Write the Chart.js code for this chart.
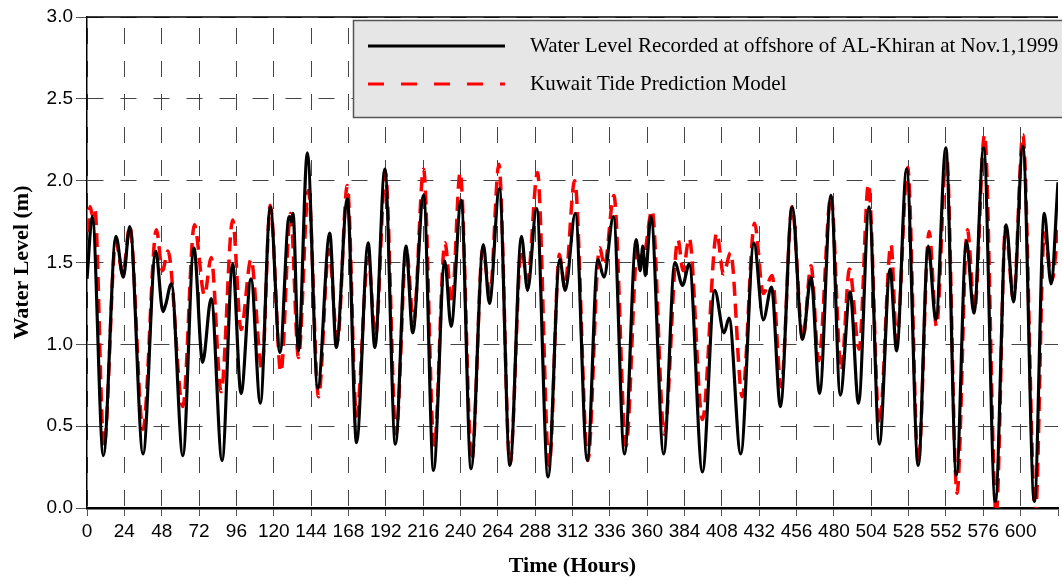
<!DOCTYPE html>
<html>
<head>
<meta charset="utf-8">
<title>AL-Khiran water level</title>
<script src="https://cdn.jsdelivr.net/npm/chart.js@4.4.1/dist/chart.umd.min.js"></script>
<style>
  html, body { margin: 0; padding: 0; background: #fff; }
</style>
</head>
<body>
<canvas id="tideChart" width="1062" height="580"></canvas>
<script>
// recorded water level, turning points of the curve (hour, metres)
const recordedHours = [
  0, 3.4, 10.5, 18.6, 23.3, 27.5, 36.0, 44.2, 48.8, 50.5, 54.2, 61.6, 68.7, 74.3, 79.8, 86.8,
  93.6, 99.0, 105.4, 111.4, 117.8, 124.0, 129.9, 131.2, 132.4, 135.9, 141.6, 148.3, 156.0, 160.2, 167.3,
  173.2, 180.7, 185.0, 191.4, 198.2, 205.0, 209.3, 216.3, 222.7, 229.9, 234.0, 240.4, 246.8,
  254.7, 258.6, 265.0, 271.8, 279.2, 283.1, 288.9, 296.3, 303.8, 307.3, 313.8, 321.5, 328.3,
  332.2, 338.3, 345.4, 352.9, 355.5, 357.2, 358.8, 362.4, 370.6, 377.8, 382.7, 387.0, 395.5,
  403.4, 409.4, 412.6, 420.1, 428.6, 434.6, 439.9, 445.6, 453.1, 459.8, 465.3, 470.8, 478.1,
  484.1, 490.4, 495.8, 502.6, 509.2, 516.1, 520.3, 526.7, 534.2, 540.6, 545.5, 551.9, 558.7,
  565.1, 570.0, 576.2, 583.7, 590.7, 595.4, 601.4, 608.8, 615.2, 619.5, 624
];
const recordedLevels = [
  1.40, 1.78, 0.32, 1.66, 1.41, 1.72, 0.33, 1.57, 1.20, 1.24, 1.37, 0.32, 1.59, 0.89, 1.28, 0.29,
  1.49, 0.70, 1.40, 0.64, 1.84, 0.95, 1.78, 1.75, 1.80, 0.96, 2.17, 0.73, 1.68, 0.98, 1.89,
  0.40, 1.62, 0.98, 2.07, 0.39, 1.60, 1.07, 1.91, 0.23, 1.51, 1.11, 1.88, 0.24,
  1.61, 1.25, 1.95, 0.26, 1.66, 1.33, 1.83, 0.19, 1.52, 1.33, 1.80, 0.29, 1.52,
  1.41, 1.78, 0.33, 1.64, 1.45, 1.60, 1.42, 1.78, 0.33, 1.50, 1.36, 1.49, 0.22,
  1.33, 1.07, 1.16, 0.33, 1.62, 1.15, 1.35, 0.62, 1.84, 1.03, 1.41, 0.70, 1.91,
  0.69, 1.32, 0.64, 1.84, 0.39, 1.46, 0.96, 2.07, 0.26, 1.60, 1.15, 2.20, 0.20,
  1.63, 1.19, 2.20, 0.04, 1.73, 1.26, 2.21, 0.04, 1.80, 1.37, 1.99
];

// Kuwait tide prediction model, turning points (hour, metres)
const modelHours = [
  0, 2.0, 3.5, 5.0, 10.9, 18.5, 23.0, 27.5, 36.0, 44.6, 48.5, 52.0, 61.6, 69.0, 75.5, 79.8,
  86.2, 93.6, 99.0, 105.4, 112.4, 117.8, 124.6, 130.8, 135.9, 142.3, 148.8, 155.5, 160.9,
  167.3, 173.2, 180.7, 185.4, 191.8, 198.6, 205.2, 209.9, 216.3, 223.1, 230.0, 234.5, 239.8,
  247.3, 254.3, 259.0, 264.7, 271.8, 279.2, 283.1, 289.5, 297.0, 303.6, 307.0, 313.4, 321.9,
  329.4, 332.6, 338.6, 346.4, 353.9, 357.0, 363.1, 371.0, 379.8, 383.0, 387.0, 395.5, 404.7,
  409.0, 413.6, 421.1, 429.0, 434.6, 440.3, 446.1, 453.1, 460.0, 465.3, 470.2, 478.1, 484.7,
  490.0, 496.2, 502.2, 509.2, 516.7, 520.3, 527.4, 534.2, 541.2, 545.9, 552.3, 559.1, 565.8,
  570.4, 576.8, 584.3, 590.3, 595.4, 601.4, 609.5, 615.2, 620.1, 624
];
const modelLevels = [
  1.55, 1.84, 1.79, 1.83, 0.37, 1.63, 1.43, 1.72, 0.48, 1.70, 1.45, 1.57, 0.62, 1.73, 1.30, 1.53,
  0.71, 1.76, 1.09, 1.52, 0.85, 1.85, 0.83, 1.80, 0.92, 1.94, 0.68, 1.58, 1.02,
  1.97, 0.56, 1.53, 1.05, 2.05, 0.45, 1.58, 1.14, 2.07, 0.37, 1.62, 1.25, 2.05,
  0.29, 1.58, 1.31, 2.10, 0.27, 1.58, 1.39, 2.05, 0.26, 1.55, 1.35, 2.00, 0.29,
  1.59, 1.48, 1.91, 0.38, 1.60, 1.50, 1.82, 0.45, 1.64, 1.45, 1.65, 0.54, 1.68,
  1.43, 1.56, 0.68, 1.74, 1.31, 1.42, 0.74, 1.84, 1.03, 1.48, 0.90, 1.91, 0.84,
  1.46, 0.97, 1.98, 0.51, 1.61, 1.02, 2.08, 0.27, 1.69, 1.11, 2.17, 0.09, 1.70,
  1.21, 2.28, -0.04, 1.72, 1.27, 2.28, -0.04, 1.68, 1.39, 1.70
];

const hourTicks = [0, 24, 48, 72, 96, 120, 144, 168, 192, 216, 240, 264, 288, 312, 336,
  360, 384, 408, 432, 456, 480, 504, 528, 552, 576, 600, 624];
const levelTicks = [0, 0.5, 1.0, 1.5, 2.0, 2.5, 3.0];

const recordedLabel = 'Water Level Recorded at offshore of AL-Khiran at Nov.1,1999';
const modelLabel = 'Kuwait Tide Prediction Model';

const toPoints = (xs, ys) => xs.map((x, i) => ({ x: x, y: ys[i] }));

const sansFont = '"Liberation Sans", Arial, sans-serif';
const serifFont = '"Liberation Serif", "Times New Roman", serif';
const lastHour = hourTicks[hourTicks.length - 1];

// top frame line
const frame = {
  id: 'frame',
  afterDatasetsDraw(chart) {
    const { ctx, chartArea: a } = chart;
    ctx.save();
    ctx.strokeStyle = '#000';
    ctx.lineWidth = 1.5;
    ctx.beginPath();
    ctx.moveTo(a.left, a.top);
    ctx.lineTo(a.right, a.top);
    ctx.stroke();
    ctx.restore();
  }
};

// boxed legend in the upper right of the plot
const legendBox = {
  id: 'legendBox',
  afterDraw(chart) {
    const ctx = chart.ctx;
    ctx.save();
    ctx.fillStyle = '#e6e6e6';
    ctx.fillRect(353, 20, 720, 98);
    ctx.strokeStyle = '#555';
    ctx.lineWidth = 1.5;
    ctx.strokeRect(353.5, 20.5, 720, 97);
    chart.data.datasets.forEach((ds, i) => {
      const y = 46 + i * 38;
      ctx.beginPath();
      ctx.setLineDash(i ? [16, 17] : []);
      ctx.strokeStyle = ds.borderColor;
      ctx.lineWidth = 3;
      ctx.moveTo(368, y);
      ctx.lineTo(505, y);
      ctx.stroke();
      ctx.setLineDash([]);
      ctx.fillStyle = '#000';
      ctx.font = '21px ' + serifFont;
      ctx.textBaseline = 'middle';
      ctx.fillText(ds.label, 530, y);
    });
    ctx.restore();
  }
};

new Chart(document.getElementById('tideChart'), {
  type: 'line',
  data: {
    datasets: [
      {
        label: recordedLabel,
        data: toPoints(recordedHours, recordedLevels),
        borderColor: '#000',
        borderWidth: 3.2,
        pointRadius: 0,
        cubicInterpolationMode: 'monotone'
      },
      {
        label: modelLabel,
        data: toPoints(modelHours, modelLevels),
        borderColor: '#ff0000',
        borderWidth: 3.5,
        borderDash: [14, 8],
        pointRadius: 0,
        cubicInterpolationMode: 'monotone'
      }
    ]
  },
  options: {
    responsive: false,
    animation: false,
    devicePixelRatio: 1,
    layout: { padding: { top: 17, right: 0, bottom: 0, left: 0 } },
    plugins: {
      legend: { display: false },
      tooltip: { enabled: false }
    },
    scales: {
      x: {
        type: 'linear',
        min: 0,
        max: lastHour,
        afterBuildTicks: s => { s.ticks = hourTicks.map(v => ({ value: v })); },
        afterFit: s => { s.height = 72; },
        ticks: {
          autoSkip: false,
          maxRotation: 0,
          padding: 4,
          color: '#000',
          font: { family: sansFont, size: 19 },
          callback: v => (v === lastHour ? '' : String(v))
        },
        grid: {
          color: c => (c.tick && c.tick.value === lastHour ? 'rgba(0,0,0,0)' : '#444'),
          lineWidth: 1,
          tickLength: 8,
          tickColor: '#555',
          tickBorderDash: []
        },
        border: { display: true, color: '#000', width: 2.5, dash: [16, 17], dashOffset: 22 },
        title: {
          display: true,
          text: 'Time (Hours)',
          color: '#000',
          font: { family: serifFont, size: 22, weight: 'bold' },
          padding: { top: 0, bottom: 0 }
        }
      },
      y: {
        min: 0,
        max: 3,
        afterBuildTicks: s => { s.ticks = levelTicks.map(v => ({ value: v })); },
        afterFit: s => { s.width = 87; },
        ticks: {
          padding: 3,
          color: '#000',
          font: { family: sansFont, size: 19 },
          callback: v => v.toFixed(1)
        },
        grid: {
          color: '#444',
          lineWidth: 1,
          tickLength: 11,
          tickColor: '#555',
          tickBorderDash: []
        },
        border: { display: true, color: '#000', width: 1.5, dash: [16, 17] },
        title: {
          display: true,
          text: 'Water Level (m)',
          color: '#000',
          font: { family: serifFont, size: 22, weight: 'bold' },
          padding: { top: 9, bottom: 0 }
        }
      }
    }
  },
  plugins: [frame, legendBox]
});
</script>
</body>
</html>
